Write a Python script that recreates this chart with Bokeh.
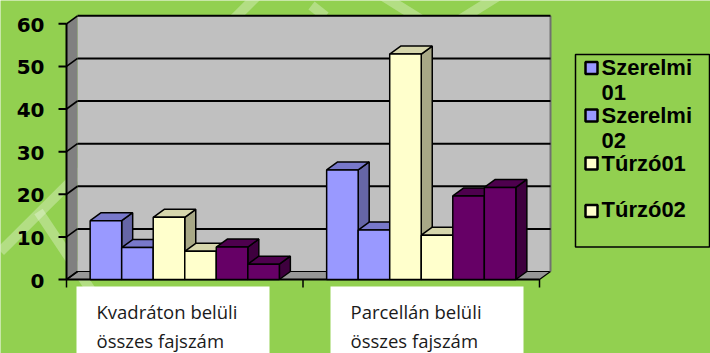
from bokeh.plotting import figure
from bokeh.models import Range1d
from bokeh.core.properties import value
from bokeh.embed import file_html
from bokeh.resources import INLINE

# ---------------- data ----------------
categories = ["Kvadráton belüli összes fajszám", "Parcellán belüli összes fajszám"]
category_lines = [["Kvadráton belüli", "összes fajszám"], ["Parcellán belüli", "összes fajszám"]]
series_names = ["Szerelmi01", "Szerelmi02", "Túrzó01", "Túrzó02", "Sorozat5", "Sorozat6"]
legend_lines = [["Szerelmi", "01"], ["Szerelmi", "02"], ["Túrzó01"], ["Túrzó02"]]
szerelmi01 = [13.8, 25.7]
szerelmi02 = [7.5, 11.6]
turzo01 = [14.6, 52.9]
turzo02 = [6.6, 10.4]
sorozat5 = [7.6, 19.6]
sorozat6 = [3.6, 21.6]
y_ticks = [0, 10, 20, 30, 40, 50, 60]

series_values = [szerelmi01, szerelmi02, turzo01, turzo02, sorozat5, sorozat6]
front_colors = ["#9999FF", "#9999FF", "#FFFFCC", "#FFFFCC", "#660066", "#660066"]
top_colors = ["#7878CA", "#7878CA", "#D6D6AC", "#D6D6AC", "#4E004E", "#4E004E"]
side_colors = ["#6666A6", "#6666A6", "#A8A886", "#A8A886", "#3E003E", "#3E003E"]

# ---------------- geometry helpers (screen px -> data) ----------------
W, H = 710, 353
X0, SX = 66.0, 236.5      # pixel of x=0, px per category
Y0, SY = 279.0, 4.262     # pixel of y=0, px per unit


def X(px):
    return (px - X0) / SX


def Y(py):
    return (Y0 - py) / SY


DX = 11.0 / SX
DY = 8.0 / SY
YMAX = 60
NCAT = len(categories)

p = figure(width=W, height=H, output_backend="svg", toolbar_location=None,
           x_range=Range1d(X(0), X(W)), y_range=Range1d(Y(H), Y(0)),
           x_axis_location=None, y_axis_location=None, min_border=0,
           background_fill_color="#92D050", border_fill_color="#92D050",
           outline_line_color=None)
p.grid.visible = False

# faint watermark stripes
stripes = [((0, 251), (258, -6)), ((38, 211), (92, 292)),
           ((380, -6), (425, 22)), ((500, -6), (455, 22)), ((311, 5), (325, 16))]
for (a, b) in stripes:
    p.line([X(a[0]), X(b[0])], [Y(a[1]), Y(b[1])], line_width=10,
           line_color="white", line_alpha=0.3, line_cap="butt")

# back wall
p.quad(left=DX, right=NCAT + DX, bottom=DY, top=YMAX + DY,
       fill_color="#C0C0C0", line_color=None)
# left wall
p.patch([0, DX, DX, 0], [0, DY, YMAX + DY, YMAX], fill_color="#808080", line_color=None)
# floor
p.patch([0, DX, NCAT + DX, NCAT], [0, DY, DY, 0], fill_color="#979797",
        line_color="black", line_width=1.2)
# right edge of back wall
p.segment(x0=[NCAT + DX], y0=[DY], x1=[NCAT + DX], y1=[YMAX + DY],
          line_color="#707070", line_width=2)

grid_vals = y_ticks[1:]
# gridlines on back wall
p.segment(x0=[DX] * len(grid_vals), x1=[NCAT + DX] * len(grid_vals),
          y0=[v + DY for v in grid_vals], y1=[v + DY for v in grid_vals],
          line_color="black", line_width=2)
# gridlines on left wall
p.segment(x0=[0] * len(y_ticks), x1=[DX] * len(y_ticks),
          y0=y_ticks, y1=[v + DY for v in y_ticks],
          line_color="black", line_width=1.6)

# front value axis
p.segment(x0=[0], y0=[0], x1=[0], y1=[YMAX], line_color="black", line_width=2)
p.segment(x0=[X(58)] * len(y_ticks), x1=[0] * len(y_ticks), y0=y_ticks, y1=y_ticks,
          line_color="black", line_width=2)
p.text(x=[X(44)] * len(y_ticks), y=[v - 1.0 / SY for v in y_ticks],
       text=[str(v) for v in y_ticks], text_align="right", text_baseline="middle",
       text_font=value("DejaVu Sans"), text_font_style="bold",
       text_font_size="20px", text_color="black")

# category axis
p.segment(x0=[0], y0=[0], x1=[NCAT], y1=[0], line_color="black", line_width=2)
cat_edges = list(range(NCAT + 1))
p.segment(x0=cat_edges, x1=cat_edges, y0=[0] * len(cat_edges), y1=[Y(287)] * len(cat_edges),
          line_color="black", line_width=1.5)

# ---------------- 3D bars ----------------
nser = len(series_values)
bw = 0.8 / nser
sides_x, sides_y, side_c = [], [], []
tops_x, tops_y, top_c = [], [], []
fl, fr, ft, fc = [], [], [], []
for ci in range(NCAT):
    for si in range(nser):
        h = series_values[si][ci]
        L = ci + 0.1 + si * bw
        R = L + bw
        sides_x.append([R, R, R + DX, R + DX])
        sides_y.append([0, h, h + DY, DY])
        side_c.append(side_colors[si])
        tops_x.append([L, L + DX, R + DX, R])
        tops_y.append([h, h + DY, h + DY, h])
        top_c.append(top_colors[si])
        fl.append(L)
        fr.append(R)
        ft.append(h)
        fc.append(front_colors[si])

p.patches(sides_x, sides_y, fill_color=side_c, line_color="black", line_width=1.5)
p.patches(tops_x, tops_y, fill_color=top_c, line_color="black", line_width=1.5)
p.quad(left=fl, right=fr, bottom=[0] * len(fl), top=ft, fill_color=fc,
       line_color="black", line_width=1.5)

# ---------------- category label boxes ----------------
box_left = [76, 330]
box_right = [269, 523]
p.quad(left=[X(v) for v in box_left], right=[X(v) for v in box_right],
       bottom=[Y(360)] * NCAT, top=[Y(286)] * NCAT, fill_color="white", line_color=None)
txt_x, txt_y, txt = [], [], []
text_left = [96, 350]
line_centers = [311, 339.5]
for ci in range(NCAT):
    for li, line in enumerate(category_lines[ci]):
        txt_x.append(X(text_left[ci]))
        txt_y.append(Y(line_centers[li]))
        txt.append(line)
p.text(x=txt_x, y=txt_y, text=txt, text_align="left", text_baseline="middle",
       text_font=value("Open Sans"), text_font_size="18.5px", text_color="#1a1a1a")

# ---------------- legend ----------------
p.quad(left=[X(575)], right=[X(709)], bottom=[Y(246.5)], top=[Y(54)],
       fill_color=None, line_color="black", line_width=1.5)
marker_y = [67.5, 115, 163, 210.5]
p.scatter(x=[X(591)] * len(legend_lines), y=[Y(v) for v in marker_y], marker="square",
          size=12, fill_color=front_colors[:4], line_color="black", line_width=2.5)
leg_centers = [[67.3, 92.3], [114.8, 139.8], [162.8], [209.3]]
lx, ly, lt = [], [], []
for i, lines in enumerate(legend_lines):
    for j, line in enumerate(lines):
        lx.append(X(601))
        ly.append(Y(leg_centers[i][j]))
        lt.append(line)
p.text(x=lx, y=ly, text=lt, text_align="left", text_baseline="middle",
       text_font=value("Liberation Sans"), text_font_style="bold",
       text_font_size="22px", text_color="black")

open("out.html", "w").write(file_html(p, INLINE))
